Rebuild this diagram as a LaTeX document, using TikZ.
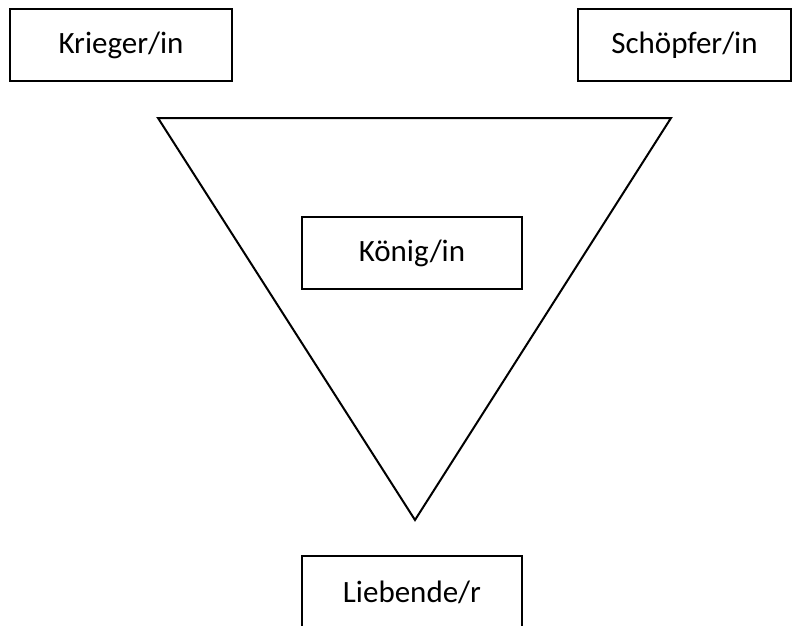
\documentclass[tikz,border=0pt]{standalone}
\usepackage{fontspec}
\setmainfont{Carlito}
\begin{document}
\begin{tikzpicture}[x=1pt,y=-1pt,
  rolebox/.style={draw=black, line width=2.2pt, fill=white, minimum height=72pt, inner sep=0pt, font=\fontsize{31}{37}\selectfont},
  tri/.style={draw=black, line width=2pt, line join=miter}]
\useasboundingbox (0,0) rectangle (792,626);
\clip (0,0) rectangle (792,626);
\fill[white] (0,0) rectangle (792,626);
\coordinate (tl) at (158,118);
\coordinate (tr) at (671,118);
\coordinate (tb) at (415,520);
\draw[tri] (tl) -- (tr) -- (tb) -- cycle;
\node[rolebox, minimum width=222pt] (krieger) at (121,45) {Krieger/in};
\node[rolebox, minimum width=213pt] (schoepfer) at (684.5,45) {Schöpfer/in};
\node[rolebox, minimum width=220pt] (koenig) at (412,253) {König/in};
\node[rolebox, minimum width=220pt] (liebende) at (412,592) {Liebende/r};
\end{tikzpicture}
\end{document}
